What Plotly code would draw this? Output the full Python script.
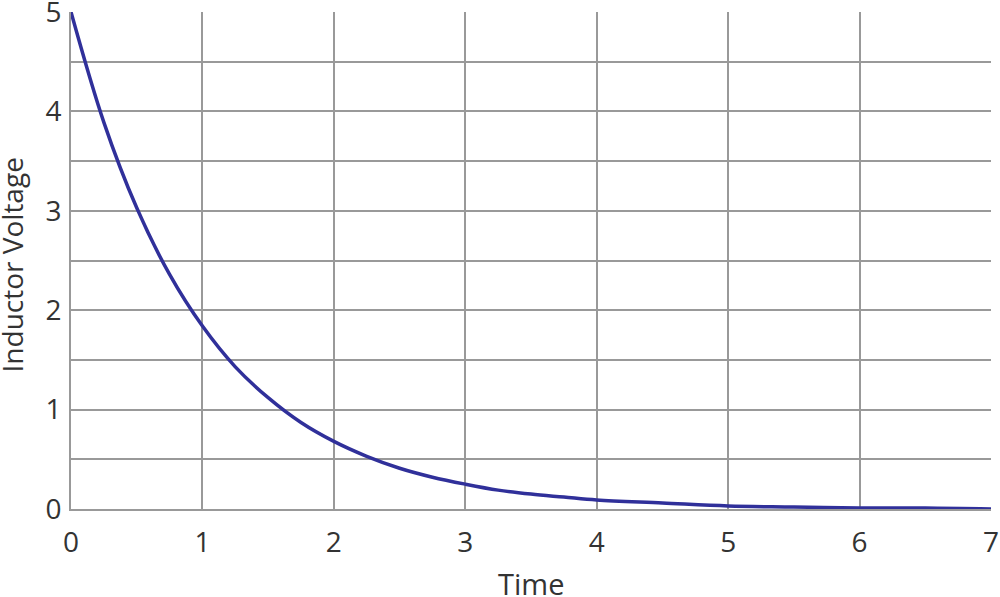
import plotly.graph_objects as go

# values
time = [0, 0.25, 0.5, 0.75, 1, 1.25, 1.5, 1.75, 2, 2.25, 2.5, 2.75, 3,
        3.25, 3.5, 3.75, 4, 4.5, 5, 5.5, 6, 6.5, 7]
voltage = [5.0, 3.89, 3.03, 2.36, 1.84, 1.43, 1.12, 0.87, 0.68, 0.53, 0.41,
           0.32, 0.25, 0.19, 0.15, 0.12, 0.09, 0.06, 0.03, 0.02, 0.01, 0.01, 0.0]

GRID = "#999999"
FONT = "Open Sans"

fig = go.Figure()
fig.add_trace(go.Scatter(x=time, y=voltage, mode="lines",
                         line=dict(color="#30309a", width=3.5, shape="spline"),
                         cliponaxis=False))

fig.update_layout(
    width=1000, height=597,
    margin=dict(l=71, r=9, t=12, b=88),
    plot_bgcolor="white", paper_bgcolor="white",
    showlegend=False,
    font=dict(family=FONT, size=28, color="#333333"),
)
fig.update_xaxes(
    range=[0, 7], dtick=1, showgrid=True, gridcolor=GRID, gridwidth=2,
    zeroline=False, showline=True, linecolor=GRID, linewidth=2,
    ticklabelstandoff=7, automargin=False, ticklabeloverflow="allow",
)
fig.update_yaxes(
    range=[0, 5], dtick=1, showgrid=True, gridcolor=GRID, gridwidth=2,
    minor=dict(dtick=0.5, showgrid=True, gridcolor=GRID, gridwidth=2),
    zeroline=False, showline=True, linecolor=GRID, linewidth=2,
    ticklabelstandoff=2, automargin=False, ticklabeloverflow="allow",
)

# axis titles as annotations so they sit where the reference has them
fig.add_annotation(text="Time", xref="paper", yref="paper", x=0.5, y=0,
                   xanchor="center", yanchor="middle", yshift=-74,
                   showarrow=False, font=dict(size=29))
fig.add_annotation(text="Inductor Voltage", xref="paper", yref="paper",
                   x=0, y=0.49, xanchor="center", yanchor="middle",
                   xshift=-59, textangle=-90, showarrow=False,
                   font=dict(size=28))

# drop the page's default body margin so the figure fills the window
fig.write_html("out.html", config={"displayModeBar": False},
               post_script="document.body.style.margin = '0';")
